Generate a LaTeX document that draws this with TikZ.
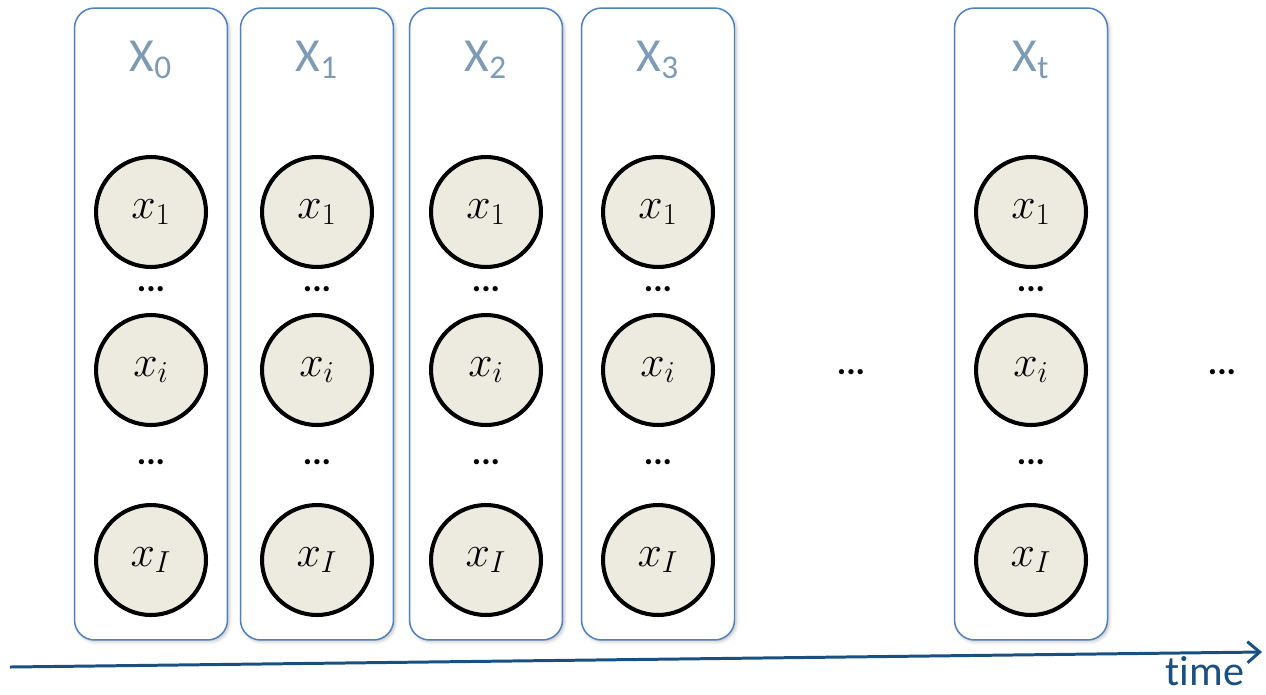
\documentclass[tikz,border=0pt]{standalone}
\usepackage{fontspec}
\setmainfont{Carlito}
\usepackage{tikz}
\usetikzlibrary{
  positioning,
  shadows.blur,
  arrows.meta,
  arrows
}
\definecolor{sliceblue}{RGB}{79,129,189}
\definecolor{labelblue}{RGB}{125,155,180}
\definecolor{varfill}{RGB}{237,235,224}
\definecolor{timeblue}{RGB}{25,80,130}

\tikzset{
  slice/.style={draw=sliceblue, line width=0.85pt, fill=white, rounded corners=0.4cm,
    minimum width=3.06cm, minimum height=12.64cm, blur shadow={shadow xshift=1pt, shadow yshift=-1pt, shadow blur steps=4, shadow opacity=25}},
  slicelabel/.style={text=labelblue, font=\fontsize{27}{30}\selectfont},
  var/.style={circle, draw=black, line width=2.3pt, fill=varfill, minimum size=2.2cm, inner sep=0pt,
    font=\fontsize{24}{26}\selectfont},
  vdots/.style={font=\fontsize{20}{22}\selectfont\bfseries, inner sep=0pt}
}

\begin{document}
\begin{tikzpicture}[x=0.02cm,y=-0.02cm,>=latex']
    \useasboundingbox (0,0) rectangle (1266,694);

    % one slice per time step
    \foreach \cx/\t in {151/0, 317/1, 486/2, 658/3, 1031/t}{
        \node[slice] (slice\t) at (\cx,324) {};
        \node[slicelabel] (label\t) at (\cx,60) {X\textsubscript{\t}};
        \node[var] (first\t) at (\cx,212) {$x_1$};
        \node[vdots] (dotsa\t) at (\cx,289) {...};
        \node[var] (mid\t) at (\cx,370) {$x_i$};
        \node[vdots] (dotsb\t) at (\cx,462) {...};
        \node[var] (last\t) at (\cx,560) {$x_I$};
    }

    % gaps between slices
    \node[vdots] (gapa) at (851,372) {...};
    \node[vdots] (gapb) at (1222,372) {...};

    % time axis
    \coordinate (tstart) at (10,667);
    \coordinate (tend) at (1262,652);
    \draw[timeblue, line width=1.7pt, -{Straight Barb[length=7pt,width=12pt]}] (tstart) -- (tend);
    \node[text=timeblue, font=\fontsize{24}{26}\selectfont, inner sep=0pt] (timelabel) at (1205,671) {t\kern0pti\kern0ptme};
\end{tikzpicture}
\end{document}
